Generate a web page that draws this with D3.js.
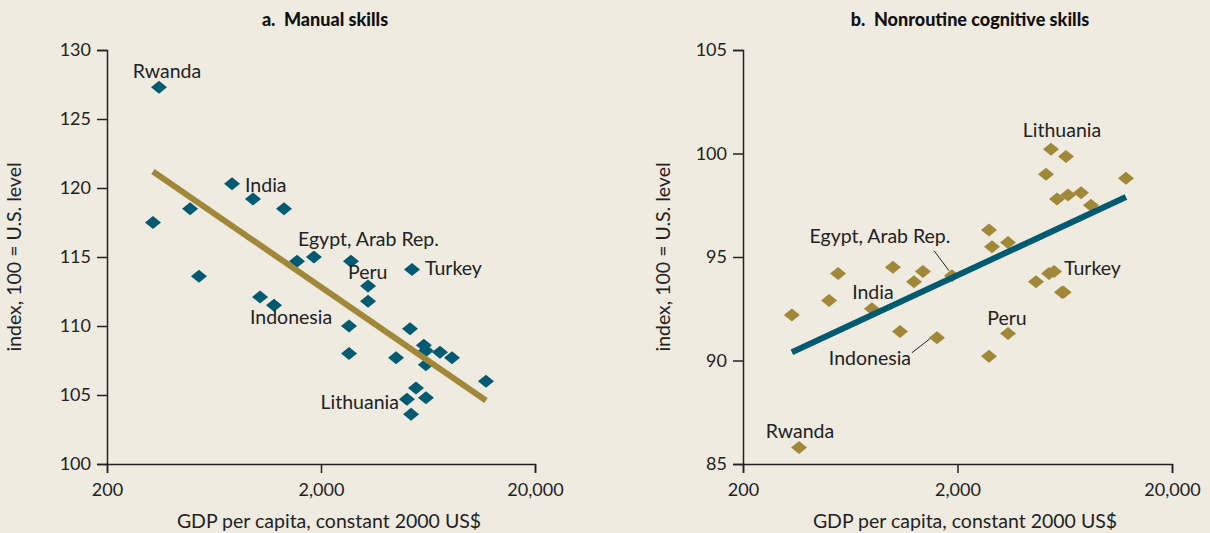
<!DOCTYPE html>
<html>
<head>
  <meta charset="utf-8">
  <title>Skills index vs GDP per capita</title>
  <style>
    body { margin: 0; background: #efebe1; }
    svg { display: block; font-family: "Lato", "Open Sans", sans-serif; }
  </style>
</head>
<body>
<script src="https://cdnjs.cloudflare.com/ajax/libs/d3/7.8.5/d3.min.js"></script>
<script>
// panel a: manual skills
var manualGdp = [350, 328, 489, 538, 768, 962, 1343, 1038, 1206, 1545, 1853, 2761, 3318, 3318, 2704,
                 2704, 4485, 5212, 5325, 6050, 6180, 6180, 7194, 8186, 5557, 5042, 6187, 5270, 11800];
var manualIndex = [127.3, 117.5, 118.5, 113.6, 120.3, 119.2, 118.5, 112.1, 111.5, 114.7, 115.0, 114.7, 112.9, 111.8, 110.0,
                   108.0, 107.7, 109.8, 114.1, 108.6, 108.2, 107.2, 108.1, 107.7, 105.5, 104.7, 104.8, 103.6, 106.0];
var manualFitGdp = [328, 11800];
var manualFitIndex = [121.2, 104.6];

// panel b: nonroutine cognitive skills
var cognitiveGdp = [365, 338, 504, 555, 798, 1000, 1079, 1254, 1380, 1604, 1885, 2805, 2897, 3440, 2805,
                    3440, 4645, 5345, 5636, 6140, 6250, 5456, 6410, 5170, 5820, 6550, 7530, 8380, 12200];
var cognitiveIndex = [85.8, 92.2, 92.9, 94.2, 92.5, 94.5, 91.4, 93.8, 94.3, 91.1, 94.1, 96.3, 95.5, 95.7, 90.2,
                      91.3, 93.8, 94.2, 94.3, 93.3, 93.3, 100.2, 99.85, 99.0, 97.8, 98.0, 98.1, 97.5, 98.8];
var cognitiveFitGdp = [338, 12200];
var cognitiveFitIndex = [90.4, 97.9];

var xTicks = [200, 2000, 20000];
var manualYTicks = [100, 105, 110, 115, 120, 125, 130];
var cognitiveYTicks = [85, 90, 95, 100, 105];

// country labels: which point they belong to
var manualLabels = [
  { name: "Rwanda", point: 0, dx: 8, dy: -9, anchor: "middle" },
  { name: "India", point: 4, dx: 13, dy: 8, anchor: "start" },
  { name: "Egypt, Arab Rep.", point: 9, dx: 1, dy: -15, anchor: "start" },
  { name: "Peru", point: 11, dx: -3, dy: 18, anchor: "start" },
  { name: "Turkey", point: 18, dx: 13, dy: 6, anchor: "start" },
  { name: "Indonesia", point: 8, dx: -24, dy: 19, anchor: "start" },
  { name: "Lithuania", point: 25, dx: -8, dy: 10, anchor: "end" }
];
var cognitiveLabels = [
  { name: "Lithuania", point: 21, dx: 11, dy: -12, anchor: "middle" },
  { name: "Egypt, Arab Rep.", point: 10, dx: -72, dy: -33, anchor: "middle", leader: [-18, -25, -3, -5] },
  { name: "India", point: 4, dx: 1, dy: -10, anchor: "middle" },
  { name: "Indonesia", point: 9, dx: -67, dy: 27, anchor: "middle", leader: [-25, 15, -7, 1] },
  { name: "Peru", point: 15, dx: -1, dy: -9, anchor: "middle" },
  { name: "Turkey", point: 18, dx: 10, dy: 4, anchor: "start" },
  { name: "Rwanda", point: 0, dx: 1, dy: -9, anchor: "middle" }
];

var W = 1210, H = 533;
var teal = "#005a72", gold = "#a08838";

var svg = d3.select("body").append("svg")
  .attr("width", W)
  .attr("height", H);

function drawPanel(opt) {
  var x = d3.scaleLog().domain([200, 20000]).range([opt.left, opt.right]);
  var y = d3.scaleLinear().domain(opt.yDomain).range([464, 50]);
  var g = svg.append("g");

  // title (keep the double space after the letter)
  g.append("text")
    .attr("x", opt.titleX).attr("y", 26)
    .attr("text-anchor", "middle")
    .style("white-space", "pre")
    .attr("font-size", 18).attr("font-weight", 900).attr("fill", "#111")
    .text(opt.title);

  // axes
  var yAxis = g.append("g")
    .attr("transform", "translate(" + opt.left + ",0)")
    .call(d3.axisLeft(y).tickValues(opt.yTicks).tickSize(10).tickPadding(6));
  var xAxis = g.append("g")
    .attr("transform", "translate(0,464)")
    .call(d3.axisBottom(x).tickValues(xTicks).tickSize(9).tickPadding(10)
      .tickFormat(d3.format(",")));
  [yAxis, xAxis].forEach(function (a) {
    a.select(".domain").attr("stroke", "#222").attr("stroke-width", 1.5);
    a.selectAll(".tick line").attr("stroke", "#222").attr("stroke-width", 1.5);
    a.selectAll(".tick text").attr("font-size", 18).attr("fill", "#222")
      .attr("font-family", "Lato, sans-serif");
  });

  // axis titles
  g.append("text")
    .attr("transform", "translate(" + opt.yTitleX + ",257) rotate(-90)")
    .attr("text-anchor", "middle").attr("font-size", 19.5).attr("fill", "#222")
    .text("index, 100 = U.S. level");
  g.append("text")
    .attr("x", opt.xTitleX).attr("y", 528)
    .attr("text-anchor", "middle").attr("font-size", 19.5).attr("fill", "#222")
    .text("GDP per capita, constant 2000 US$");

  // points
  var pts = opt.gdp.map(function (d, i) { return [d, opt.index[i]]; });
  g.selectAll("path.pt").data(pts).enter().append("path")
    .attr("class", "pt")
    .attr("d", "M0,-6.5L8,0L0,6.5L-8,0Z")
    .attr("transform", function (d) { return "translate(" + x(d[0]) + "," + y(d[1]) + ")"; })
    .attr("fill", opt.pointColor);

  // fitted line
  var fit = opt.fitGdp.map(function (d, i) { return [d, opt.fitIndex[i]]; });
  g.append("path")
    .datum(fit)
    .attr("d", d3.line().x(function (d) { return x(d[0]); }).y(function (d) { return y(d[1]); }))
    .attr("stroke", opt.lineColor).attr("stroke-width", 6).attr("fill", "none");

  // labels
  opt.labels.forEach(function (l) {
    var px = x(pts[l.point][0]), py = y(pts[l.point][1]);
    g.append("text")
      .attr("x", px + l.dx).attr("y", py + l.dy)
      .attr("text-anchor", l.anchor)
      .attr("font-size", 19.5).attr("fill", "#222")
      .text(l.name);
    if (l.leader) {
      g.append("line")
        .attr("x1", px + l.leader[0]).attr("y1", py + l.leader[1])
        .attr("x2", px + l.leader[2]).attr("y2", py + l.leader[3])
        .attr("stroke", "#222").attr("stroke-width", 1);
    }
  });
}

drawPanel({
  title: "a.  Manual skills", titleX: 325, xTitleX: 329, yTitleX: 21,
  left: 107, right: 535, yDomain: [100, 130], yTicks: manualYTicks,
  gdp: manualGdp, index: manualIndex, fitGdp: manualFitGdp, fitIndex: manualFitIndex,
  pointColor: teal, lineColor: gold, labels: manualLabels
});
drawPanel({
  title: "b.  Nonroutine cognitive skills", titleX: 970, xTitleX: 965, yTitleX: 670,
  left: 743, right: 1172, yDomain: [85, 105], yTicks: cognitiveYTicks,
  gdp: cognitiveGdp, index: cognitiveIndex, fitGdp: cognitiveFitGdp, fitIndex: cognitiveFitIndex,
  pointColor: gold, lineColor: teal, labels: cognitiveLabels
});
</script>
</body>
</html>
